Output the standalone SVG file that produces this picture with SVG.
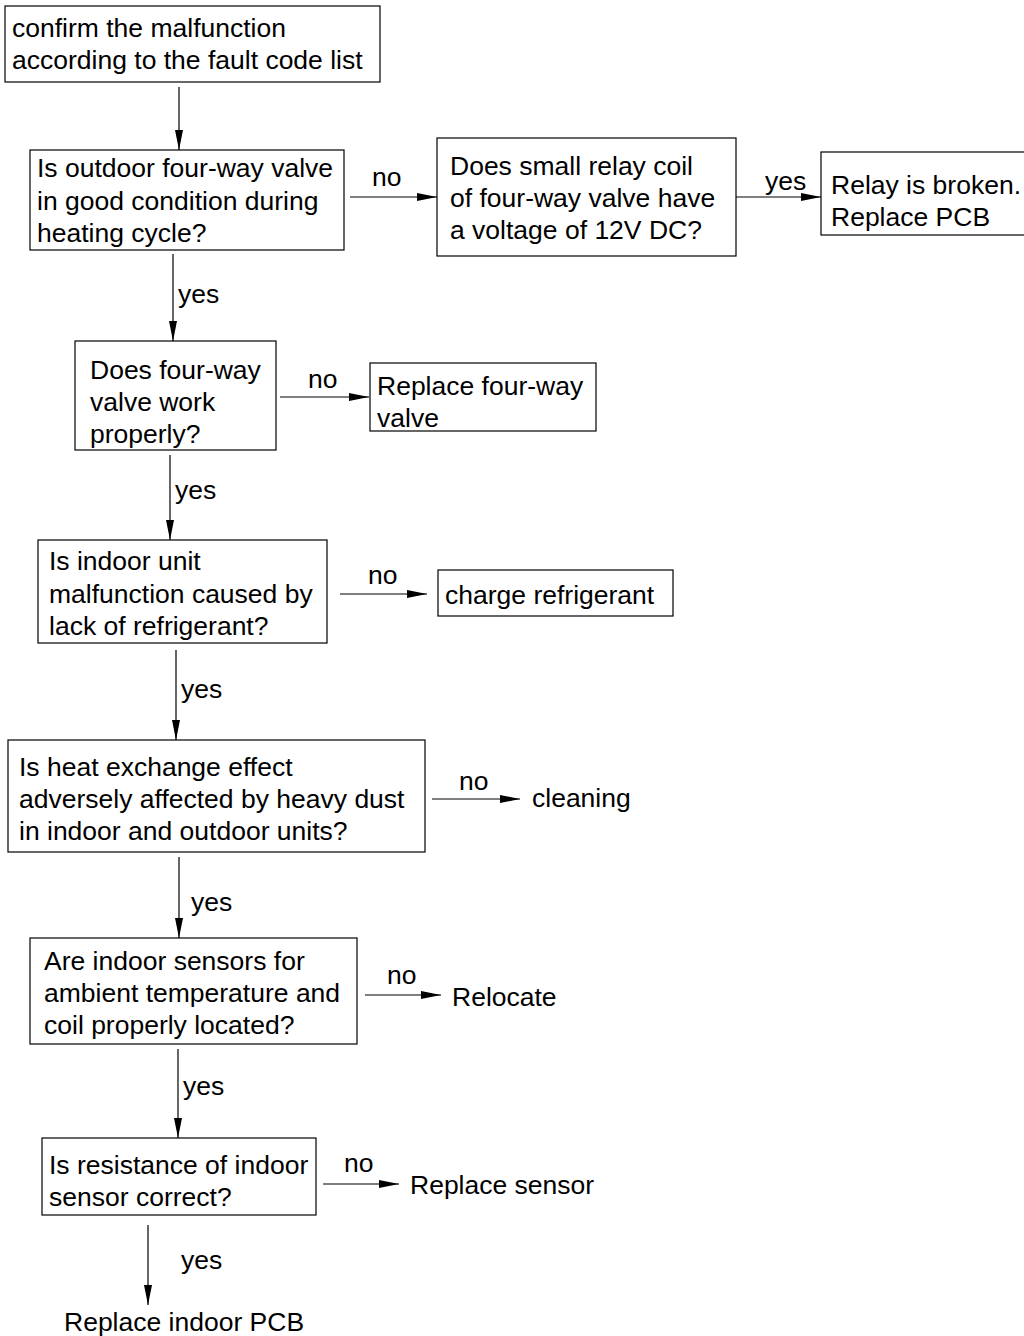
<svg xmlns="http://www.w3.org/2000/svg" width="1024" height="1336" viewBox="0 0 1024 1336">
<style>
.box{fill:#fff;stroke:#000;stroke-width:1.2}
text{font-family:"Liberation Sans",Arial,sans-serif;font-size:26.5px;fill:#000}
.c{stroke:#000;stroke-width:1.2;fill:none;marker-end:url(#ah)}
</style>
<defs>
<marker id="ah" markerUnits="userSpaceOnUse" markerWidth="22" markerHeight="10" refX="20" refY="4.5" orient="auto">
<path d="M0,0.5 L20,4.5 L0,8.5 z" fill="#000"/>
</marker>
</defs>
<rect width="1024" height="1336" fill="#fff"/>
<g id="connectors">
<line class="c" x1="179" y1="87" x2="179" y2="150"/>
<line class="c" x1="350" y1="197" x2="437" y2="197"/>
<line class="c" x1="736" y1="197" x2="821" y2="197"/>
<line class="c" x1="173" y1="254" x2="173" y2="341"/>
<line class="c" x1="280" y1="397" x2="369" y2="397"/>
<line class="c" x1="170" y1="455" x2="170" y2="540"/>
<line class="c" x1="340" y1="594" x2="427" y2="594"/>
<line class="c" x1="176" y1="650" x2="176" y2="740"/>
<line class="c" x1="432" y1="799" x2="520" y2="799"/>
<line class="c" x1="179" y1="857" x2="179" y2="938"/>
<line class="c" x1="365" y1="995" x2="441" y2="995"/>
<line class="c" x1="178" y1="1049" x2="178" y2="1138"/>
<line class="c" x1="323" y1="1184" x2="399" y2="1184"/>
<line class="c" x1="148" y1="1225" x2="148" y2="1305"/>
<text x="372" y="186">no</text>
<text x="765" y="190">yes</text>
<text x="178" y="303">yes</text>
<text x="308" y="388">no</text>
<text x="175" y="499">yes</text>
<text x="368" y="584">no</text>
<text x="181" y="698">yes</text>
<text x="459" y="790">no</text>
<text x="191" y="911">yes</text>
<text x="387" y="984">no</text>
<text x="183" y="1095">yes</text>
<text x="344" y="1172">no</text>
<text x="181" y="1269">yes</text>
</g>
<g id="n1"><rect class="box" x="5" y="6" width="375" height="76"/>
<text x="12" y="37">confirm the malfunction</text>
<text x="12" y="69">according to the fault code list</text></g>
<g id="n2"><rect class="box" x="30" y="150" width="314" height="100"/>
<text x="37" y="177">Is outdoor four-way valve</text>
<text x="37" y="210">in good condition during</text>
<text x="37" y="242">heating cycle?</text></g>
<g id="n3"><rect class="box" x="437" y="138" width="299" height="118"/>
<text x="450" y="175">Does small relay coil</text>
<text x="450" y="207">of four-way valve have</text>
<text x="450" y="239">a voltage of 12V DC?</text></g>
<g id="n4"><rect class="box" x="821" y="152" width="210" height="83"/>
<text x="831" y="194">Relay is broken.</text>
<text x="831" y="226">Replace PCB</text></g>
<g id="n5"><rect class="box" x="75" y="341" width="201" height="109"/>
<text x="90" y="379">Does four-way</text>
<text x="90" y="411">valve work</text>
<text x="90" y="443">properly?</text></g>
<g id="n6"><rect class="box" x="370" y="363" width="226" height="68"/>
<text x="377" y="395">Replace four-way</text>
<text x="377" y="427">valve</text></g>
<g id="n7"><rect class="box" x="38" y="540" width="289" height="103"/>
<text x="49" y="570">Is indoor unit</text>
<text x="49" y="603">malfunction caused by</text>
<text x="49" y="635">lack of refrigerant?</text></g>
<g id="n8"><rect class="box" x="438" y="570" width="235" height="46"/>
<text x="445" y="604">charge refrigerant</text></g>
<g id="n9"><rect class="box" x="8" y="740" width="417" height="112"/>
<text x="19" y="776">Is heat exchange effect</text>
<text x="19" y="808">adversely affected by heavy dust</text>
<text x="19" y="840">in indoor and outdoor units?</text></g>
<g id="n10"><text x="532" y="807">cleaning</text></g>
<g id="n11"><rect class="box" x="30" y="938" width="327" height="106"/>
<text x="44" y="970">Are indoor sensors for</text>
<text x="44" y="1002">ambient temperature and</text>
<text x="44" y="1034">coil properly located?</text></g>
<g id="n12"><text x="452" y="1006">Relocate</text></g>
<g id="n13"><rect class="box" x="42" y="1138" width="274" height="77"/>
<text x="49" y="1174">Is resistance of indoor</text>
<text x="49" y="1206">sensor correct?</text></g>
<g id="n14"><text x="410" y="1194">Replace sensor</text></g>
<g id="n15"><text x="64" y="1331">Replace indoor PCB</text></g>
</svg>
